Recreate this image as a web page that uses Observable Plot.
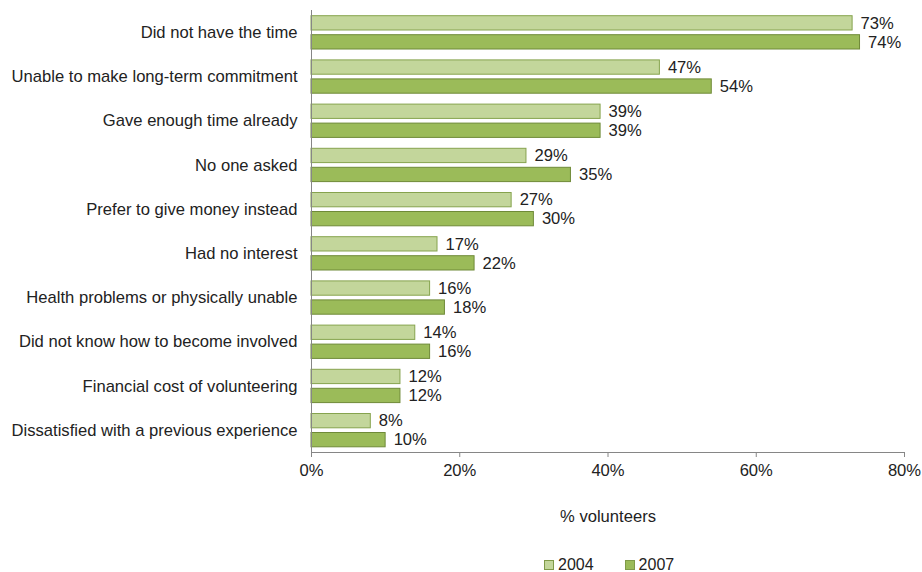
<!DOCTYPE html>
<html><head><meta charset="utf-8">
<script src="https://cdn.jsdelivr.net/npm/d3@7"></script>
<script src="https://cdn.jsdelivr.net/npm/@observablehq/plot@0.6"></script>
<style>
body{margin:0;background:#fff;font-family:"Liberation Sans",Arial,sans-serif;}
#legend{display:flex;gap:0;margin-left:544px;font-size:16px;line-height:18px;color:#222;}
.item{display:flex;align-items:center;margin-right:31px;}
.sw{width:8px;height:8px;margin-right:4px;border:1px solid #7F9A48;}
</style></head>
<body>
<div id="chart"></div>
<div id="legend"></div>
<script>
const categories = ["Did not have the time","Unable to make long-term commitment","Gave enough time already","No one asked","Prefer to give money instead","Had no interest","Health problems or physically unable","Did not know how to become involved","Financial cost of volunteering","Dissatisfied with a previous experience"];
const values2004 = [73,47,39,29,27,17,16,14,12,8];
const values2007 = [74,54,39,35,30,22,18,16,12,10];
const xTicks = [0,20,40,60,80];
const seriesNames = ["2004","2007"];
const colors = ["#C3D69B","#9BBB59"];

const d04 = categories.map((c,i)=>({cat:c, v:values2004[i]}));
const d07 = categories.map((c,i)=>({cat:c, v:values2007[i]}));

const fs = 16.6;
const chart = Plot.plot({
  width: 922, height: 556,
  marginLeft: 311, marginRight: 18, marginTop: 10, marginBottom: 104,
  style: {fontFamily: '"Liberation Sans", Arial, sans-serif', fontSize: fs + "px", color: "#222"},
  x: {domain: [0,80], ticks: xTicks},
  y: {domain: categories, padding: 0, round: false},
  marks: [
    Plot.axisY({tickSize: 0, tickPadding: 14, label: null, fontSize: fs, fill: "#222"}),
    Plot.axisX({ticks: xTicks, tickFormat: d => d + "%", tickSize: 5, tickPadding: 7, label: null, stroke: "#868686", fontSize: fs, fill: "#222"}),
    Plot.barX(d04, {x: "v", y: "cat", fill: colors[0], stroke: "#86A34E", strokeWidth: 1, insetTop: 5.7, insetBottom: 24.2}),
    Plot.barX(d07, {x: "v", y: "cat", fill: colors[1], stroke: "#6F8A38", strokeWidth: 1, insetTop: 24.7, insetBottom: 5.2}),
    Plot.text(d04, {x: "v", y: "cat", text: d => d.v + "%", textAnchor: "start", dx: 8, dy: -9.25, fontSize: fs, fill: "#222"}),
    Plot.text(d07, {x: "v", y: "cat", text: d => d.v + "%", textAnchor: "start", dx: 8, dy: 9.75, fontSize: fs, fill: "#222"}),
    Plot.ruleX([0], {stroke: "#868686"}),
    Plot.frame({anchor: "bottom", stroke: "#868686"}),
    Plot.text(["% volunteers"], {frameAnchor: "bottom", dy: 69, fontSize: fs, fill: "#222"})
  ]
});
document.getElementById("chart").appendChild(chart);

const legend = document.getElementById("legend");
seriesNames.forEach((s,i)=>{
  const it = document.createElement("div"); it.className="item";
  const sw = document.createElement("span"); sw.className="sw"; sw.style.background = colors[i];
  const t = document.createElement("span"); t.textContent = s;
  it.appendChild(sw); it.appendChild(t); legend.appendChild(it);
});
</script>
</body></html>
